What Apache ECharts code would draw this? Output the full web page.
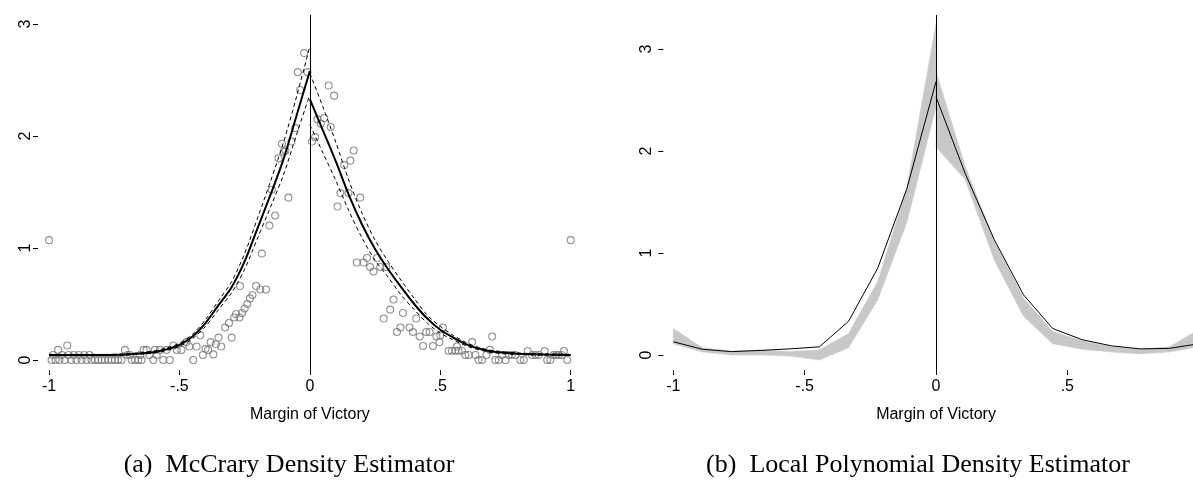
<!DOCTYPE html>
<html>
<head>
<meta charset="utf-8">
<script src="https://cdn.jsdelivr.net/npm/echarts@6/dist/echarts.min.js"></script>
<style>
  html, body { margin: 0; padding: 0; background: #fff; }
  #chart { width: 1193px; height: 491px; }
</style>
</head>
<body>
<div id="chart"></div>
<script>
// axis ticks
const xTicks = [-1, -0.5, 0, 0.5, 1];
const xTickLabels = ['-1', '-.5', '0', '.5', '1'];
const yTicks = [0, 1, 2, 3];
const yTickLabels = ['0', '1', '2', '3'];

// (a) histogram bin heights, left / right of the cutoff
const binsLeft = [
  [-0.99,0],[-0.985,0.045],[-0.975,0],[-0.965,0.09],[-0.96,0],[-0.95,0.045],[-0.94,0],[-0.93,0.13],
  [-0.925,0.045],[-0.915,0],[-0.905,0.045],[-0.895,0],[-0.885,0.045],[-0.875,0],[-0.865,0.045],[-0.856,0],
  [-0.845,0.045],[-0.837,0],[-0.824,0],[-0.811,0],[-0.798,0],[-0.786,0],[-0.773,0],[-0.76,0],
  [-0.747,0],[-0.735,0],[-0.722,0],[-0.709,0.09],[-0.7,0.045],[-0.69,0.045],[-0.683,0],[-0.67,0],
  [-0.658,0],[-0.65,0.045],[-0.645,0],[-0.637,0.09],[-0.626,0.09],[-0.615,0.045],[-0.6,0],[-0.594,0.09],
  [-0.587,0.045],[-0.575,0.09],[-0.562,0],[-0.549,0.09],[-0.537,0],[-0.523,0.13],[-0.51,0.09],[-0.492,0.09],
  [-0.473,0.16],[-0.462,0.12],[-0.447,0],[-0.434,0.12],[-0.42,0.22],[-0.41,0.045],[-0.4,0.1],[-0.39,0.09],
  [-0.38,0.16],[-0.37,0.05],[-0.36,0.14],[-0.35,0.2],[-0.34,0.12],[-0.325,0.29],[-0.31,0.33],[-0.3,0.2],
  [-0.29,0.38],[-0.283,0.41],[-0.27,0.38],[-0.268,0.66],[-0.26,0.42],[-0.25,0.46],[-0.24,0.5],[-0.23,0.55],
  [-0.22,0.58],[-0.206,0.66],[-0.19,0.63],[-0.184,0.95],[-0.168,0.63],[-0.155,1.2],[-0.146,1.52],[-0.133,1.29],
  [-0.12,1.8],[-0.107,1.93],[-0.1,1.86],[-0.093,1.87],[-0.082,1.45],[-0.07,1.95],[-0.056,2.07],[-0.046,2.57],
  [-0.037,2.41],[-0.022,2.74],[-0.009,2.57]
];
const binsRight = [
  [0.008,1.95],[0.02,1.99],[0.029,2.15],[0.042,2.11],[0.055,2.16],[0.072,2.45],[0.08,2.08],[0.093,2.36],
  [0.106,1.37],[0.117,1.49],[0.132,1.74],[0.148,1.49],[0.155,1.78],[0.168,1.87],[0.18,0.87],[0.193,1.45],
  [0.206,0.87],[0.219,0.91],[0.231,0.83],[0.244,0.79],[0.257,0.91],[0.27,0.83],[0.283,0.37],[0.293,0.83],
  [0.308,0.45],[0.321,0.54],[0.334,0.25],[0.347,0.29],[0.357,0.42],[0.382,0.29],[0.395,0.25],[0.408,0.37],
  [0.421,0.21],[0.434,0.125],[0.446,0.25],[0.459,0.25],[0.472,0.125],[0.485,0.21],[0.497,0.16],[0.5,0.22],
  [0.51,0.29],[0.532,0.083],[0.545,0.083],[0.558,0.083],[0.564,0.12],[0.57,0.083],[0.583,0.083],[0.596,0.045],
  [0.609,0.045],[0.622,0.16],[0.635,0.045],[0.647,0],[0.66,0],[0.677,0.045],[0.69,0.09],[0.699,0.21],
  [0.711,0],[0.724,0],[0.737,0.045],[0.75,0],[0.762,0.045],[0.775,0.045],[0.788,0.045],[0.807,0],
  [0.82,0],[0.835,0.08],[0.852,0.045],[0.865,0.045],[0.878,0.045],[0.9,0.08],[0.91,0],[0.922,0],
  [0.935,0.045],[0.945,0.045],[0.954,0.045],[0.965,0.045],[0.974,0.08],[0.987,0]
];
const endpointBins = [[-1, 1.07], [1, 1.07]];

// (a) McCrary fit with confidence bounds
const mccFitLeft = [[-1,0.045],[-0.9,0.045],[-0.8,0.045],[-0.7,0.05],[-0.65,0.058],[-0.6,0.07],[-0.55,0.095],[-0.5,0.135],[-0.45,0.21],[-0.4,0.33],[-0.35,0.49],[-0.3,0.65],[-0.25,0.88],[-0.2,1.18],[-0.15,1.48],[-0.1,1.8],[-0.05,2.19],[0,2.58]];
const mccHiLeft = [[-1,0.05],[-0.9,0.05],[-0.8,0.05],[-0.7,0.056],[-0.65,0.065],[-0.6,0.08],[-0.55,0.107],[-0.5,0.15],[-0.45,0.23],[-0.4,0.36],[-0.35,0.53],[-0.3,0.7],[-0.25,0.95],[-0.2,1.27],[-0.15,1.6],[-0.1,1.95],[-0.05,2.36],[0,2.8]];
const mccLoLeft = [[-1,0.04],[-0.9,0.04],[-0.8,0.04],[-0.7,0.044],[-0.65,0.051],[-0.6,0.062],[-0.55,0.084],[-0.5,0.12],[-0.45,0.19],[-0.4,0.3],[-0.35,0.45],[-0.3,0.6],[-0.25,0.81],[-0.2,1.09],[-0.15,1.37],[-0.1,1.66],[-0.05,2.02],[0,2.37]];
const mccFitRight = [[0,2.33],[0.05,2.05],[0.1,1.77],[0.15,1.47],[0.2,1.21],[0.25,0.99],[0.3,0.81],[0.35,0.65],[0.4,0.5],[0.45,0.37],[0.5,0.27],[0.55,0.2],[0.6,0.14],[0.65,0.1],[0.7,0.075],[0.8,0.055],[0.9,0.048],[1,0.045]];
const mccHiRight = [[0,2.56],[0.05,2.26],[0.1,1.94],[0.15,1.6],[0.2,1.31],[0.25,1.07],[0.3,0.88],[0.35,0.71],[0.4,0.55],[0.45,0.4],[0.5,0.3],[0.55,0.22],[0.6,0.155],[0.65,0.11],[0.7,0.085],[0.8,0.062],[0.9,0.055],[1,0.05]];
const mccLoRight = [[0,2.1],[0.05,1.85],[0.1,1.6],[0.15,1.33],[0.2,1.09],[0.25,0.89],[0.3,0.74],[0.35,0.58],[0.4,0.45],[0.45,0.33],[0.5,0.24],[0.55,0.18],[0.6,0.125],[0.65,0.09],[0.7,0.066],[0.8,0.048],[0.9,0.042],[1,0.04]];

// (b) local polynomial estimate + CI, evaluated on a grid each side
const lpGridLeft = [-1, -0.889, -0.778, -0.667, -0.556, -0.444, -0.333, -0.222, -0.111, 0];
const lpEstLeft  = [0.13, 0.056, 0.033, 0.045, 0.06, 0.08, 0.33, 0.85, 1.63, 2.68];
const lpLoLeft   = [0.11, 0.03, 0.0, 0.0, -0.01, -0.05, 0.07, 0.54, 1.3, 2.43];
const lpHiLeft   = [0.26, 0.07, 0.04, 0.05, 0.035, 0.05, 0.21, 0.72, 1.64, 3.25];
const lpGridRight = [0, 0.111, 0.222, 0.333, 0.444, 0.556, 0.667, 0.778, 0.889, 1];
const lpEstRight  = [2.53, 1.78, 1.13, 0.59, 0.26, 0.15, 0.09, 0.06, 0.065, 0.11];
const lpLoRight   = [2.04, 1.72, 0.93, 0.38, 0.11, 0.056, 0.03, 0.01, 0.03, 0.08];
const lpHiRight   = [2.78, 1.85, 1.12, 0.56, 0.23, 0.14, 0.08, 0.056, 0.08, 0.25];

const SANS = 'Liberation Sans';
const SERIF = 'Liberation Serif';

const tickLabel = (ticks, labels) => (v) => {
  const i = ticks.findIndex(t => Math.abs(t - v) < 1e-9);
  return i < 0 ? '' : labels[i];
};

const xAxisFor = (gi) => ({
  gridIndex: gi, type: 'value', min: -1, max: 1,
  axisLine: { show: false, onZero: false }, splitLine: { show: false },
  axisTick: { show: true, length: 5, customValues: xTicks, lineStyle: { color: '#000', width: 1 } },
  axisLabel: { customValues: xTicks, formatter: tickLabel(xTicks, xTickLabels), margin: 9, color: '#000', fontSize: 16, fontFamily: SANS },
  name: 'Margin of Victory', nameLocation: 'middle', nameGap: 37,
  nameTextStyle: { color: '#000', fontSize: 16, fontFamily: SANS }
});

const yAxisFor = (gi, min, max, offset, margin) => ({
  gridIndex: gi, type: 'value', min: min, max: max, offset: offset,
  axisLine: { show: false, onZero: false }, splitLine: { show: false },
  axisTick: { show: true, length: 5, customValues: yTicks, lineStyle: { color: '#000', width: 1 } },
  axisLabel: { customValues: yTicks, formatter: tickLabel(yTicks, yTickLabels), rotate: 90, margin: margin, color: '#000', fontSize: 16, fontFamily: SANS }
});

const cutoffLine = {
  silent: true, symbol: ['none', 'none'], label: { show: false },
  lineStyle: { color: '#000', width: 1, type: 'solid' },
  data: [{ xAxis: 0 }]
};

const curve = (data, width, dashed, extra) => Object.assign({
  type: 'line', xAxisIndex: 0, yAxisIndex: 0, data: data,
  showSymbol: false, smooth: 0.3, silent: true,
  lineStyle: { color: '#000', width: width, type: dashed ? [4, 3] : 'solid' }
}, extra || {});

const toPairs = (xs, ys) => xs.map((x, i) => [x, ys[i]]);

// confidence band as one polygon per side, placed with the axis scales
const band = (xs, lo, hi) => ({
  type: 'custom', xAxisIndex: 1, yAxisIndex: 1, silent: true,
  data: xs.map((x, i) => [x, lo[i], hi[i]]),
  renderItem: (params, api) => {
    if (params.dataIndex !== 0) return null;
    const top = xs.map((x, i) => api.coord([x, hi[i]]));
    const bottom = xs.map((x, i) => api.coord([x, lo[i]])).reverse();
    return {
      type: 'polygon',
      shape: { points: top.concat(bottom) },
      style: { fill: '#c8c8c8', stroke: '#c8c8c8', lineWidth: 0.5 }
    };
  },
  encode: { x: 0, y: [1, 2] }
});

const chart = echarts.init(document.getElementById('chart'), null, { renderer: 'canvas' });

chart.setOption({
  animation: false,
  backgroundColor: '#fff',
  grid: [
    { left: 49, width: 521.7, top: 15, height: 355, outerBoundsMode: 'none', containLabel: false },
    { left: 673.3, width: 525.4, top: 15, height: 355, outerBoundsMode: 'none', containLabel: false }
  ],
  xAxis: [xAxisFor(0), xAxisFor(1)],
  yAxis: [
    yAxisFor(0, -0.0893, 3.08, 11, 4),
    yAxisFor(1, -0.147, 3.333, 10, 9)
  ],
  series: [
    {
      type: 'scatter', xAxisIndex: 0, yAxisIndex: 0, silent: true,
      data: binsLeft.concat(binsRight, endpointBins),
      symbol: 'circle', symbolSize: 7,
      itemStyle: { color: 'rgba(0,0,0,0)', borderColor: '#777777', borderWidth: 1.1 }
    },
    curve(mccHiLeft, 1, true),
    curve(mccLoLeft, 1, true),
    curve(mccHiRight, 1, true),
    curve(mccLoRight, 1, true),
    curve(mccFitLeft, 2, false, { markLine: cutoffLine }),
    curve(mccFitRight, 2, false),

    band(lpGridLeft, lpLoLeft, lpHiLeft),
    band(lpGridRight, lpLoRight, lpHiRight),
    {
      type: 'line', xAxisIndex: 1, yAxisIndex: 1, silent: true, showSymbol: false,
      data: toPairs(lpGridLeft, lpEstLeft),
      lineStyle: { color: '#000', width: 1 },
      markLine: cutoffLine
    },
    {
      type: 'line', xAxisIndex: 1, yAxisIndex: 1, silent: true, showSymbol: false,
      data: toPairs(lpGridRight, lpEstRight),
      lineStyle: { color: '#000', width: 1 }
    }
  ],
  graphic: [
    {
      type: 'text', x: 289, y: 465, silent: true,
      style: { text: '(a)  McCrary Density Estimator', fill: '#000', font: '26px "' + SERIF + '"', textAlign: 'center', textVerticalAlign: 'middle' }
    },
    {
      type: 'text', x: 918, y: 465, silent: true,
      style: { text: '(b)  Local Polynomial Density Estimator', fill: '#000', font: '26px "' + SERIF + '"', textAlign: 'center', textVerticalAlign: 'middle' }
    }
  ]
});
</script>
</body>
</html>
